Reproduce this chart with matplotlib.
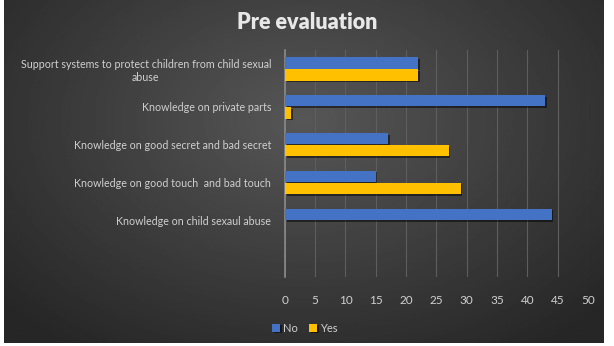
import matplotlib

matplotlib.use("Agg")
import matplotlib.pyplot as plt
import matplotlib.patheffects as pe
import numpy as np

categories = [
    "Support systems to protect children from child sexual\nabuse",
    "Knowledge on private parts",
    "Knowledge on good secret and bad secret",
    "Knowledge on good touch  and bad touch",
    "Knowledge on child sexaul abuse",
]
no_values = [22, 43, 17, 15, 44]
yes_values = [22, 1, 27, 29, 0]
x_ticks = [0, 5, 10, 15, 20, 25, 30, 35, 40, 45, 50]

BLUE = "#4472C4"
YELLOW = "#FFC000"
TEXT = "#d0d0d0"

plt.rcParams["font.family"] = ["Lato", "DejaVu Sans"]

fig = plt.figure(figsize=(6.14, 3.46), dpi=100)
fig.patch.set_facecolor("white")

# dark radial-gradient background panel
bg = fig.add_axes([0.0065, 0.0087, 0.977, 0.9913])
yy, xx = np.mgrid[0:1:200j, 0:1:360j]
r = np.sqrt(((xx - 0.5) / 0.75) ** 2 + ((yy - 0.35) / 0.9) ** 2)
shade = np.clip(0.34 - 0.21 * r, 0.15, 0.36)
bg.imshow(shade, cmap="gray", vmin=0, vmax=1, aspect="auto", extent=[0, 1, 1, 0])
bg.set_axis_off()

ax = fig.add_axes([0.464, 0.1994, 0.4935, 0.656])
ax.set_facecolor("none")

y = np.arange(len(categories))
h = 0.3
shadow = [pe.SimplePatchShadow(offset=(1.2, -1.2), shadow_rgbFace="black", alpha=0.5), pe.Normal()]
ax.barh(y - 0.16, no_values, height=h, color=BLUE, label="No", path_effects=shadow, zorder=3)
ax.barh(y + 0.16, yes_values, height=h, color=YELLOW, label="Yes", path_effects=shadow, zorder=3)

ax.set_xlim(0, 50)
ax.set_ylim(len(categories) + 0.5, -0.5)
ax.set_xticks(x_ticks)
ax.set_yticks(y)
ax.set_yticklabels(categories, ha="right")
for lbl in ax.get_yticklabels():
    lbl.set_multialignment("center")
ax.tick_params(axis="y", length=0, colors=TEXT, labelsize=7.7, pad=10)
ax.tick_params(axis="x", length=0, colors=TEXT, labelsize=8.5, pad=13)
ax.grid(axis="x", color="#5e5e5e", lw=0.8, zorder=0)
for side in ["top", "right", "bottom"]:
    ax.spines[side].set_visible(False)
ax.spines["left"].set_color("#8a8a8a")
ax.spines["left"].set_linewidth(1.2)

fig.text(0.5, 0.935, "Pre evaluation", ha="center", va="center",
         fontsize=15.5, fontweight="heavy", color="#e8e8e8")

fig.legend(loc="center", bbox_to_anchor=(0.497, 0.052), ncol=2, frameon=False,
           fontsize=8, labelcolor=TEXT, handlelength=0.7, handleheight=0.7,
           handletextpad=0.3, columnspacing=1.0)

fig.savefig("out.png", dpi=100, facecolor=fig.get_facecolor())
